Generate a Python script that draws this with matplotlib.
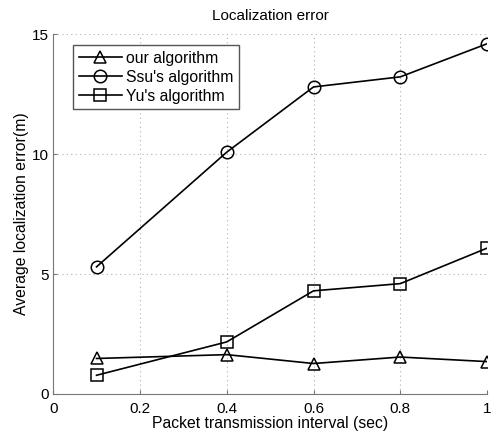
import matplotlib
matplotlib.use("Agg")
import matplotlib.pyplot as plt

plt.rcParams['font.family'] = ['Liberation Sans', 'DejaVu Sans']

x = [0.1, 0.4, 0.6, 0.8, 1.0]
ours = [1.48, 1.64, 1.27, 1.54, 1.35]
ssu = [5.3, 10.08, 12.8, 13.22, 14.6]
yu = [0.78, 2.17, 4.3, 4.6, 6.08]

fig = plt.figure(figsize=(4.92, 4.38), dpi=100)
ax = fig.add_axes([0.108, 0.1005, 0.882, 0.8215])

mk = dict(color='black', lw=1.2, markerfacecolor='none', markeredgecolor='black',
          markeredgewidth=1.1)
ax.plot(x, ours, marker='^', markersize=9, label='our algorithm', **mk)
ax.plot(x, ssu, marker='o', markersize=9, label="Ssu's algorithm", **mk)
ax.plot(x, yu, marker='s', markersize=8, label="Yu's algorithm", **mk)

ax.set_xlim(0, 1)
ax.set_ylim(0, 15)
ax.set_xticks([0, 0.2, 0.4, 0.6, 0.8, 1])
ax.set_xticklabels(['0', '0.2', '0.4', '0.6', '0.8', '1'])
ax.set_yticks([0, 5, 10, 15])
ax.grid(True, linestyle=(0, (1, 3)), color='#b0b0b0', lw=0.8)
for s in ['top', 'right']:
    ax.spines[s].set_visible(False)
for s in ['left', 'bottom']:
    ax.spines[s].set_color('#777777')
ax.tick_params(direction='in', labelsize=11, colors='#777777', labelcolor='black', length=3)
ax.tick_params(axis='x', pad=6)
ax.tick_params(axis='y', pad=3)

ax.set_xlabel('Packet transmission interval (sec)', fontsize=11.3, labelpad=0)
ax.set_ylabel('Average localization error(m)', fontsize=11.3, labelpad=2)
ax.set_title('Localization error', fontsize=11, pad=10)

leg = ax.legend(loc='upper left', bbox_to_anchor=(0.046, 0.969), borderaxespad=0,
                fontsize=11.3, fancybox=False, framealpha=1, edgecolor='#555555',
                handlelength=2.75, borderpad=0.35, labelspacing=0.25, handletextpad=0.25)
leg.get_frame().set_linewidth(1.0)

fig.savefig('out.png', dpi=100)
